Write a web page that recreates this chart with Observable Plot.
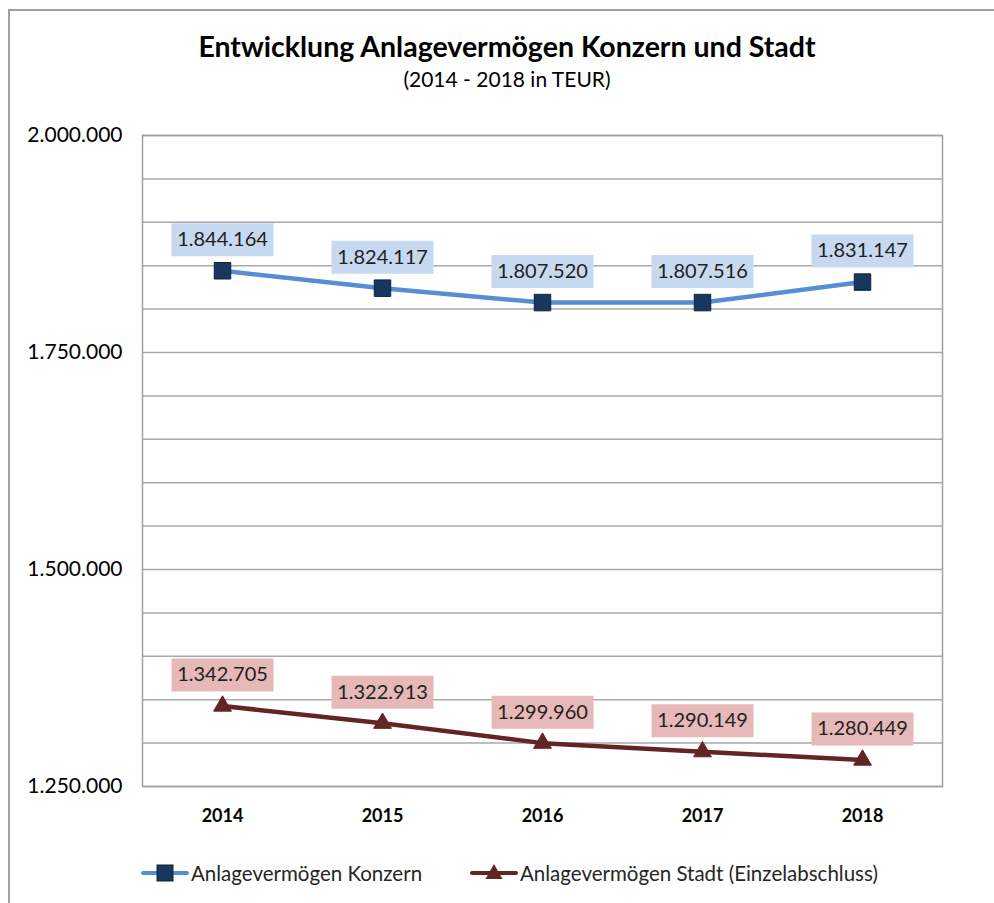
<!DOCTYPE html>
<html>
<head>
<meta charset="utf-8">
<script src="https://cdn.jsdelivr.net/npm/d3@7"></script>
<script src="https://cdn.jsdelivr.net/npm/@observablehq/plot@0.6"></script>
<style>
  html, body { margin: 0; padding: 0; background: #fff; }
  #wrap { position: relative; width: 994px; height: 903px; overflow: hidden; font-family: Lato, "Open Sans", sans-serif; }
  #border { position: absolute; left: 8px; top: 9px; right: -10px; bottom: -10px; border-top: 2px solid #a0a0a0; border-left: 2px solid #a0a0a0; }
  #title { position: absolute; left: 0; width: 1014px; top: 29px; text-align: center; font-size: 28.5px; font-weight: bold; color: #000; }
  #subtitle { position: absolute; left: 0; width: 1014px; top: 66px; text-align: center; font-size: 21px; color: #000; }
  #chart { position: absolute; left: 0; top: 120px; }
  .leg { position: absolute; top: 861px; display: flex; align-items: center; font-size: 20.5px; color: #262626; }
  .leg svg { display: block; margin-right: 2px; }
</style>
</head>
<body>
<div id="wrap">
  <div id="border"></div>
  <div id="title">Entwicklung Anlagevermögen Konzern und Stadt</div>
  <div id="subtitle">(2014 - 2018 in TEUR)</div>
  <div id="chart"></div>
  <div class="leg" style="left:141px">
    <svg width="48" height="24"><line x1="2" y1="12" x2="46" y2="12" stroke="#558ED5" stroke-width="4" stroke-linecap="round"/><rect x="16" y="4" width="16" height="16" fill="#17375E" stroke="#0E2239" stroke-width="1"/></svg>
    <span>Anlagevermögen Konzern</span>
  </div>
  <div class="leg" style="left:470px">
    <svg width="48" height="24"><line x1="2" y1="12" x2="46" y2="12" stroke="#632523" stroke-width="4" stroke-linecap="round"/><path d="M24,3 L32.5,18 L15.5,18 Z" fill="#632523"/></svg>
    <span>Anlagevermögen Stadt (Einzelabschluss)</span>
  </div>
</div>
<script>
const years = ["2014", "2015", "2016", "2017", "2018"];
const konzern = [1844164, 1824117, 1807520, 1807516, 1831147];
const stadt = [1342705, 1322913, 1299960, 1290149, 1280449];
const yTicks = [1250000, 1500000, 1750000, 2000000];
const gridValues = [1250000, 1300000, 1350000, 1400000, 1450000, 1500000, 1550000, 1600000, 1650000, 1700000, 1750000, 1800000, 1850000, 1900000, 1950000, 2000000];
const seriesNames = ["Anlagevermögen Konzern", "Anlagevermögen Stadt (Einzelabschluss)"];

const de = d3.formatLocale({decimal: ",", thousands: ".", grouping: [3], currency: ["", " €"]});
const fmt = de.format(",d");

const dataK = years.map((y, i) => ({year: y, value: konzern[i], series: seriesNames[0]}));
const dataS = years.map((y, i) => ({year: y, value: stadt[i], series: seriesNames[1]}));

const labelBox = {draw(ctx) { ctx.rect(-51, -16.5, 102, 33); }};

const chart = Plot.plot({
  width: 994,
  height: 720,
  marginLeft: 142,
  marginRight: 52,
  marginTop: 15,
  marginBottom: 54,
  style: {fontFamily: "Lato, 'Open Sans', sans-serif", background: "transparent", color: "#000"},
  x: {type: "point", domain: years, padding: 0.5, label: null},
  y: {domain: [1250000, 2000000], label: null},
  marks: [
    Plot.ruleY(gridValues, {stroke: "#a9a9a9", strokeWidth: 1.5}),
    Plot.frame({stroke: "#a0a0a0", strokeWidth: 1.5}),
    Plot.axisY({ticks: yTicks, tickFormat: fmt, tickSize: 0, tickPadding: 20, fontSize: 21, label: null}),
    Plot.axisX({tickSize: 0, tickPadding: 23, fontSize: 18, fontWeight: "bold", label: null}),
    Plot.line(dataK, {x: "year", y: "value", stroke: "#558ED5", strokeWidth: 4.5}),
    Plot.line(dataS, {x: "year", y: "value", stroke: "#632523", strokeWidth: 4.5}),
    Plot.dot(dataK, {x: "year", y: "value", symbol: "square", r: 9.3, fill: "#17375E", stroke: "#0E2239", strokeWidth: 1}),
    Plot.dot(dataS, {x: "year", y: "value", symbol: "triangle", r: 6.6, fill: "#632523", stroke: "#632523", strokeWidth: 1}),
    Plot.dot(dataK, {x: "year", y: "value", symbol: labelBox, r: 5, dy: -31, fill: "#C6D9F1", stroke: "none"}),
    Plot.dot(dataS, {x: "year", y: "value", symbol: labelBox, r: 5, dy: -31, fill: "#E6B9B8", stroke: "none"}),
    Plot.text(dataK, {x: "year", y: "value", text: d => fmt(d.value), dy: -31, fontSize: 20, fill: "#1f1f1f"}),
    Plot.text(dataS, {x: "year", y: "value", text: d => fmt(d.value), dy: -31, fontSize: 20, fill: "#1f1f1f"})
  ]
});
document.getElementById("chart").appendChild(chart);
</script>
</body>
</html>
